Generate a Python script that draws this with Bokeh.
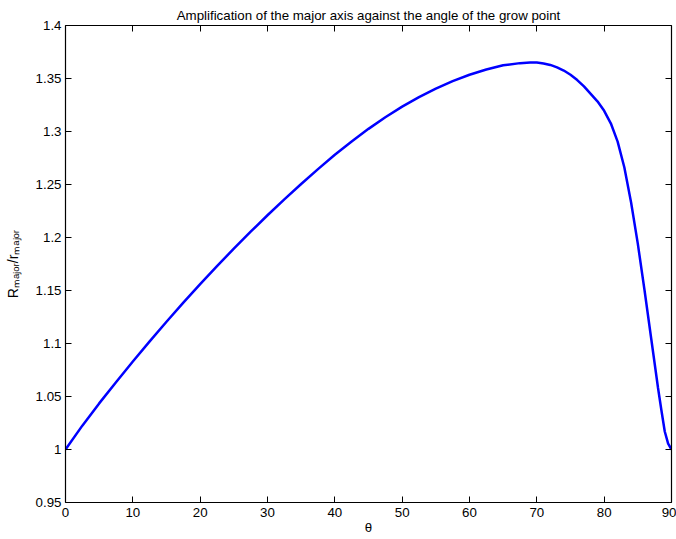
from bokeh.plotting import figure
from bokeh.models import LinearAxis, Range1d, FixedTicker, CustomJSTickFormatter
from bokeh.embed import file_html
from bokeh.resources import INLINE

# Data
theta = [0, 2.5, 5, 7.5, 10, 12.5, 15, 17.5, 20, 22.5, 25, 27.5, 30, 32.5, 35,
         37.5, 40, 42.5, 45, 47.5, 50, 52.5, 55, 57.5, 60, 62.5, 65, 67.5, 69,
         70, 71, 72, 73, 74, 75, 76, 77, 78, 79, 80, 81, 82, 83, 84, 85, 86,
         87, 88, 88.5, 89, 89.5, 90]
ratio = [1.0000, 1.0225, 1.0435, 1.0635, 1.0830, 1.1020, 1.1205, 1.1385, 1.1560,
         1.1730, 1.1895, 1.2055, 1.2210, 1.2360, 1.2505, 1.2645, 1.2780, 1.2905,
         1.3025, 1.3135, 1.3235, 1.3325, 1.3405, 1.3475, 1.3535, 1.3585, 1.3625,
         1.3645, 1.3652, 1.3650, 1.3642, 1.3628, 1.3605, 1.3575, 1.3535, 1.3485,
         1.3425, 1.3355, 1.3285, 1.3195, 1.3075, 1.2905, 1.2660, 1.2330, 1.1940,
         1.1500, 1.1040, 1.0580, 1.0370, 1.0170, 1.0055, 1.0000]

x_ticks = [0, 10, 20, 30, 40, 50, 60, 70, 80, 90]
y_ticks = [0.95, 1.0, 1.05, 1.1, 1.15, 1.2, 1.25, 1.3, 1.35, 1.4]

title_text = "Amplification of the major axis against the angle of the grow point"
x_label = "θ"
y_label = "Rₘₐⱼₒᵣ/rₘₐⱼₒᵣ"

FONT = "Liberation Sans"
FS = "13.3px"

p = figure(width=676, height=539, x_range=Range1d(0, 90), y_range=Range1d(0.95, 1.4),
           output_backend="svg", toolbar_location=None,
           min_border_left=65, min_border_right=5, min_border_top=25, min_border_bottom=37)
p.grid.visible = False
p.outline_line_color = None
p.background_fill_color = "white"
p.border_fill_color = "white"

p.title.text = title_text
p.title.align = "center"
p.title.vertical_align = "top"
p.title.text_font = FONT
p.title.text_font_size = FS
p.title.text_font_style = "normal"
p.title.text_color = "black"
p.title.standoff = 2

p.line(theta, ratio, line_color="#0000FF", line_width=2.5)

def style_axis(ax, ticks):
    ax.ticker = FixedTicker(ticks=ticks)
    ax.axis_line_color = "black"
    ax.axis_line_width = 1.2
    ax.major_tick_line_color = "black"
    ax.major_tick_in = 6
    ax.major_tick_out = 0
    ax.minor_tick_line_color = None
    ax.major_label_text_font = FONT
    ax.major_label_text_font_size = FS
    ax.major_label_text_color = "black"
    ax.axis_label_text_color = "black"

style_axis(p.xaxis[0], x_ticks)
style_axis(p.yaxis[0], y_ticks)
p.xaxis[0].major_label_standoff = 5
p.yaxis[0].major_label_standoff = 4
p.xaxis[0].axis_label = x_label
p.xaxis[0].axis_label_text_font = FONT
p.xaxis[0].axis_label_text_font_size = FS
p.xaxis[0].axis_label_text_font_style = "normal"
p.xaxis[0].axis_label_standoff = 0
p.yaxis[0].axis_label = y_label
p.yaxis[0].axis_label_text_font = FONT
p.yaxis[0].axis_label_text_font_size = "14px"
p.yaxis[0].axis_label_text_font_style = "normal"
p.yaxis[0].axis_label_standoff = 12

blank = CustomJSTickFormatter(code="return '';")
top = LinearAxis(formatter=blank)
style_axis(top, x_ticks)
top.major_label_standoff = 0
p.add_layout(top, "above")
right = LinearAxis(formatter=blank)
style_axis(right, y_ticks)
right.major_label_standoff = 0
p.add_layout(right, "right")

open("out.html", "w").write(file_html(p, INLINE))
